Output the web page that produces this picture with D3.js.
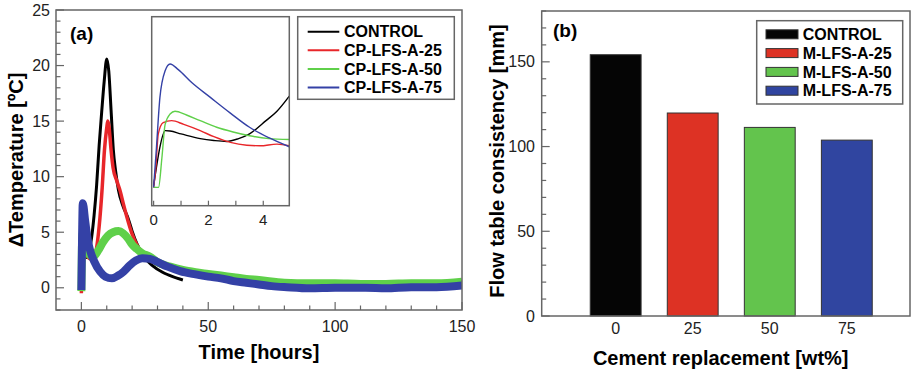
<!DOCTYPE html>
<html>
<head>
<meta charset="utf-8">
<script src="https://cdn.jsdelivr.net/npm/d3@7"></script>
<style>
  body { margin: 0; background: #fff; }
  svg { display: block; font-family: "Liberation Sans", Arial, Helvetica, sans-serif; }
</style>
</head>
<body>
<svg id="chart" width="912" height="373"></svg>
<script>
// ---- data ----
// panel (a): [time in hours, delta T in degC]
const controlCurve = [[0,-0.3],[0.3,3.8],[0.6,4.6],[1,3.5],[1.5,2.7],[2.5,2.8],[3.7,4],[5,6.5],[6,9.2],[7,12.8],[8,15.8],[9,18.6],[10,20.6],[10.8,19.5],[11.7,16],[12.6,12.4],[13.5,10.5],[14.6,8.8],[16.5,7.3],[18.5,6.2],[20,5.1],[22,3.9],[25,2.7],[28,2.0],[32,1.4],[36,1.0],[40,0.7]]
const lfs25Curve = [[0,-0.5],[0.3,3.2],[0.6,4.2],[1,3.6],[2,3],[3.5,2.6],[5,2.6],[6,3.6],[7,5.5],[8.2,9],[9.1,12.4],[10,14.4],[10.4,15],[10.9,14.5],[11.7,12.4],[12.5,10.8],[14,9.6],[15.3,8.7],[16.5,7.6],[17.9,6.4],[19.9,4.9],[22,3.8],[25,2.9],[27,2.5],[30,2.1],[35,1.7],[40,1.45],[45,1.3],[50,1.15],[60,0.9],[70,0.65],[80,0.42],[90,0.37],[100,0.37],[110,0.32],[120,0.32],[130,0.37],[140,0.37],[146,0.55],[150,0.5]]
const lfs50Curve = [[0,-0.3],[0.2,3.5],[0.5,4.9],[1.5,3.8],[3,3],[4.7,2.8],[6.5,3.3],[8.5,4.1],[10.5,4.7],[12.5,5.0],[14.6,5.1],[16.5,4.9],[18.5,4.4],[20,3.9],[21.8,3.5],[24,3.1],[27,2.8],[30,2.3],[35,1.9],[40,1.6],[45,1.4],[50,1.25],[55,1.1],[60,0.95],[65,0.8],[70,0.7],[80,0.45],[90,0.4],[100,0.4],[110,0.35],[120,0.35],[130,0.4],[140,0.4],[150,0.55]]
const lfs75Curve = [[0,-0.2],[0.3,5],[0.55,7.6],[1.5,6],[2.5,4.3],[3.4,3.4],[5,2.4],[7.4,1.45],[9.5,1.0],[12,0.85],[14.5,1.1],[16.6,1.45],[19,2.0],[21.5,2.45],[24,2.65],[27,2.6],[29.7,2.35],[34,1.9],[38.9,1.5],[45,1.2],[50,1.0],[55,0.85],[60,0.6],[65,0.45],[70,0.3],[75,0.15],[81,0.05],[90,-0.05],[100,0.0],[112,0.0],[120,-0.05],[130,0.05],[140,0.05],[150,0.2]]

// inset of panel (a): first 5 hours, unlabelled y
const controlInset = [[0,1.06],[0.1,2],[0.23,3.1],[0.42,3.97],[0.6,3.95],[1,3.8],[1.7,3.55],[2.2,3.45],[2.67,3.4],[3.1,3.55],[3.5,3.8],[4.1,4.5],[4.5,5.0],[4.95,5.8]]
const lfs25Inset = [[0,0.96],[0.08,2],[0.17,3.8],[0.35,4.4],[0.66,4.5],[1.1,4.3],[1.7,3.97],[2.2,3.65],[2.8,3.35],[3.4,3.2],[3.88,3.17],[4.5,3.26],[4.95,3.17]]
const lfs50Inset = [[0,0.98],[0.18,0.97],[0.3,2.5],[0.42,4.3],[0.6,4.85],[0.78,5.0],[1.2,4.8],[1.7,4.5],[2.3,4.15],[2.9,3.9],[3.5,3.7],[4.2,3.55],[4.95,3.5]]
const lfs75Inset = [[0,0.97],[0.1,3],[0.23,5.73],[0.42,7.14],[0.6,7.5],[0.9,7.2],[1.4,6.5],[2.07,5.73],[2.8,4.9],[3.5,4.15],[4.2,3.6],[4.95,3.12]]

const pasteNames = ['CONTROL', 'CP-LFS-A-25', 'CP-LFS-A-50', 'CP-LFS-A-75']
const lineColors = ['#000000', '#e8262a', '#5fd04a', '#3441a6']

// panel (b)
const replacement = [0, 25, 50, 75]
const flowValues = [154.2, 119.8, 111.3, 103.8]
const mortarNames = ['CONTROL', 'M-LFS-A-25', 'M-LFS-A-50', 'M-LFS-A-75']
const barColors = ['#050505', '#dd3224', '#63c44d', '#3045a0']

const timeTicks = [0, 50, 100, 150]
const tempTicks = [0, 5, 10, 15, 20, 25]
const insetTicks = [0, 2, 4]
const flowTicks = [0, 50, 100, 150]

// ---- drawing ----
const svg = d3.select('#chart')
const frameColor = '#666'
const tickColor = '#222'

function minorTicks (g, values, x1, x2, y1, y2) {
	g.selectAll(null).data(values).enter().append('line')
		.attr('x1', x1).attr('x2', x2).attr('y1', y1).attr('y2', y2)
		.attr('stroke', frameColor).attr('stroke-width', 1.2)
}

// ===== panel (a) =====
const xA = d3.scaleLinear().domain([-10, 150]).range([56, 462])
const yA = d3.scaleLinear().domain([-2, 25]).range([310, 10])

svg.append('clipPath').attr('id', 'clipA').append('rect')
	.attr('x', xA(-10)).attr('y', yA(25)).attr('width', xA(150) - xA(-10)).attr('height', yA(-2) - yA(25))

const gA = svg.append('g')

// ticks (inward)
minorTicks(gA, d3.range(0, 151, 10), d => xA(d), d => xA(d), yA(-2), d => yA(-2) - (d % 50 === 0 ? 8 : 4.5))
minorTicks(gA, d3.range(-2, 26, 1), xA(-10), d => xA(-10) + (d % 5 === 0 ? 8 : 4.5), d => yA(d), d => yA(d))

gA.selectAll(null).data(timeTicks).enter().append('text')
	.attr('x', d => xA(d)).attr('y', 332).attr('text-anchor', 'middle')
	.attr('font-size', 16).attr('fill', tickColor).text(d => d)
gA.selectAll(null).data(tempTicks).enter().append('text')
	.attr('x', 50).attr('y', d => yA(d) + 5.5).attr('text-anchor', 'end')
	.attr('font-size', 16).attr('fill', tickColor).text(d => d)

const lineA = d3.line().x(d => xA(d[0])).y(d => yA(d[1])).curve(d3.curveMonotoneX)
const mainCurves = [controlCurve, lfs25Curve, lfs50Curve, lfs75Curve]
const mainWidths = [3, 3.5, 8, 8]
const plotA = gA.append('g').attr('clip-path', 'url(#clipA)')
mainCurves.forEach((c, i) => {
	plotA.append('path').attr('d', lineA(c))
		.attr('fill', 'none').attr('stroke', lineColors[i])
		.attr('stroke-width', mainWidths[i]).attr('stroke-linejoin', 'round')
})

gA.append('rect')
	.attr('x', xA(-10)).attr('y', yA(25)).attr('width', xA(150) - xA(-10)).attr('height', yA(-2) - yA(25))
	.attr('fill', 'none').attr('stroke', frameColor).attr('stroke-width', 1.5)

gA.append('text').attr('x', 70).attr('y', 40).attr('font-size', 19).attr('font-weight', 'bold').text('(a)')

gA.append('text').attr('x', xA(70)).attr('y', 359).attr('text-anchor', 'middle')
	.attr('font-size', 20).attr('font-weight', 'bold').text('Time [hours]')
gA.append('text').attr('transform', 'translate(23,' + yA(11.5) + ') rotate(-90)').attr('text-anchor', 'middle')
	.attr('font-size', 20).attr('font-weight', 'bold').text('\u0394Temperature [\u00baC]')

// inset
const xI = d3.scaleLinear().domain([-0.07, 4.95]).range([151.7, 289.3])
const yI = d3.scaleLinear().domain([0, 10]).range([205.7, 16.7])
svg.append('clipPath').attr('id', 'clipI').append('rect')
	.attr('x', xI.range()[0]).attr('y', yI.range()[1]).attr('width', xI.range()[1] - xI.range()[0]).attr('height', yI.range()[0] - yI.range()[1])
const gI = svg.append('g')
gI.append('rect')
	.attr('x', xI.range()[0]).attr('y', yI.range()[1]).attr('width', xI.range()[1] - xI.range()[0]).attr('height', yI.range()[0] - yI.range()[1])
	.attr('fill', '#fff')
const lineI = d3.line().x(d => xI(d[0])).y(d => yI(d[1])).curve(d3.curveMonotoneX)
const insetCurves = [controlInset, lfs25Inset, lfs50Inset, lfs75Inset]
const plotI = gI.append('g').attr('clip-path', 'url(#clipI)')
insetCurves.forEach((c, i) => {
	plotI.append('path').attr('d', lineI(c))
		.attr('fill', 'none').attr('stroke', lineColors[i]).attr('stroke-width', 1.4)
})
minorTicks(gI, [0, 1, 2, 3, 4], d => xI(d), d => xI(d), yI.range()[0], yI.range()[0] - 5)
gI.append('rect')
	.attr('x', xI.range()[0]).attr('y', yI.range()[1]).attr('width', xI.range()[1] - xI.range()[0]).attr('height', yI.range()[0] - yI.range()[1])
	.attr('fill', 'none').attr('stroke', frameColor).attr('stroke-width', 1.5)
gI.selectAll(null).data(insetTicks).enter().append('text')
	.attr('x', d => xI(d)).attr('y', 225).attr('text-anchor', 'middle')
	.attr('font-size', 15).attr('fill', tickColor).text(d => d)

// legend (a)
const legA = svg.append('g').attr('transform', 'translate(297.7,16.7)')
legA.append('rect').attr('width', 156.6).attr('height', 82.6)
	.attr('fill', '#fff').attr('stroke', frameColor).attr('stroke-width', 1.5)
pasteNames.forEach((n, i) => {
	const y = 15 + i * 18.6
	legA.append('line').attr('x1', 10).attr('x2', 41.6).attr('y1', y).attr('y2', y)
		.attr('stroke', lineColors[i]).attr('stroke-width', 2)
	legA.append('text').attr('x', 46.3).attr('y', y + 5.7)
		.attr('font-size', 16).attr('font-weight', 'bold').text(n)
})

// ===== panel (b) =====
const xB = d3.scaleLinear().domain([-24, 95.5]).range([541.7, 910])
const yB = d3.scaleLinear().domain([0, 180]).range([316, 11])
const gB = svg.append('g')
const halfBar = 8.25

gB.selectAll(null).data(replacement).enter().append('rect')
	.attr('x', d => xB(d - halfBar)).attr('width', xB(halfBar) - xB(-halfBar))
	.attr('y', (d, i) => yB(flowValues[i])).attr('height', (d, i) => yB(0) - yB(flowValues[i]))
	.attr('fill', (d, i) => barColors[i]).attr('stroke', '#333').attr('stroke-width', 1)

minorTicks(gB, d3.range(0, 181, 10), xB(-24), d => xB(-24) + (d % 50 === 0 ? 8 : 4.5), d => yB(d), d => yB(d))

gB.append('rect')
	.attr('x', xB(-24)).attr('y', yB(180)).attr('width', xB(95.5) - xB(-24)).attr('height', yB(0) - yB(180))
	.attr('fill', 'none').attr('stroke', frameColor).attr('stroke-width', 1.5)

gB.selectAll(null).data(flowTicks).enter().append('text')
	.attr('x', 535).attr('y', d => yB(d) + 5.5).attr('text-anchor', 'end')
	.attr('font-size', 16).attr('fill', tickColor).text(d => d)
gB.selectAll(null).data(replacement).enter().append('text')
	.attr('x', d => xB(d)).attr('y', 334).attr('text-anchor', 'middle')
	.attr('font-size', 16).attr('fill', tickColor).text(d => d)

gB.append('text').attr('x', 553).attr('y', 37).attr('font-size', 19).attr('font-weight', 'bold').text('(b)')
gB.append('text').attr('x', 720.7).attr('y', 365).attr('text-anchor', 'middle')
	.attr('font-size', 20).attr('font-weight', 'bold').text('Cement replacement [wt%]')
gB.append('text').attr('transform', 'translate(504,161) rotate(-90)').attr('text-anchor', 'middle')
	.attr('font-size', 20).attr('font-weight', 'bold').text('Flow table consistency [mm]')

// legend (b)
const legB = svg.append('g').attr('transform', 'translate(756.7,20.7)')
legB.append('rect').attr('width', 146).attr('height', 83.3)
	.attr('fill', '#fff').attr('stroke', frameColor).attr('stroke-width', 1.5)
mortarNames.forEach((n, i) => {
	const y = 13.6 + i * 18.8
	legB.append('rect').attr('x', 9.3).attr('y', y - 4.5).attr('width', 32).attr('height', 9)
		.attr('fill', barColors[i]).attr('stroke', '#333').attr('stroke-width', 1)
	legB.append('text').attr('x', 46).attr('y', y + 5.7)
		.attr('font-size', 16).attr('font-weight', 'bold').text(n)
})
</script>
</body>
</html>
